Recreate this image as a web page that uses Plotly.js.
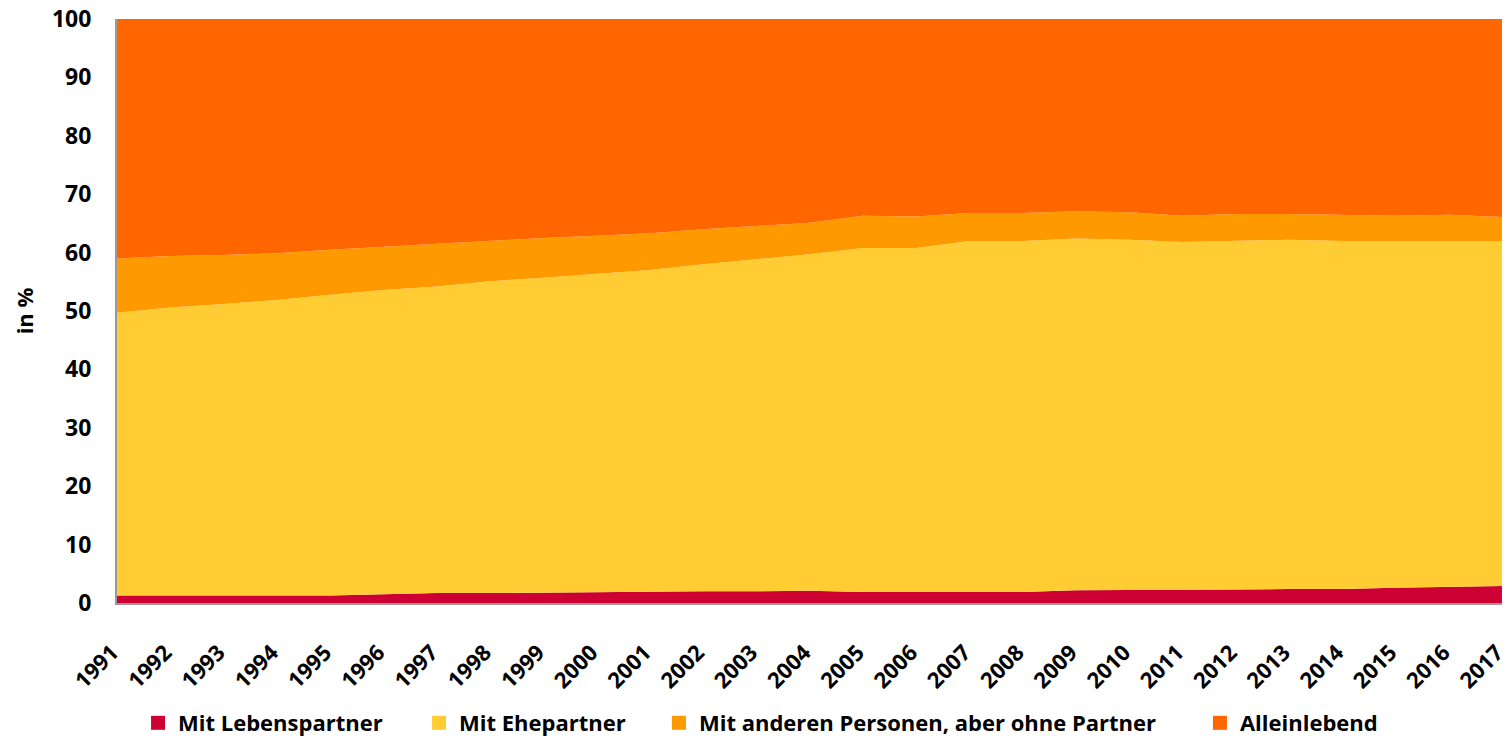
<!DOCTYPE html>
<html>
<head>
<meta charset="utf-8">
<script src="https://cdn.plot.ly/plotly-3.0.1.min.js"></script>
<style>
html,body{margin:0;padding:0;background:#fff;}
#chart{width:1508px;height:738px;}
</style>
</head>
<body>
<div id="chart"></div>
<script>
const years = [1991,1992,1993,1994,1995,1996,1997,1998,1999,2000,2001,2002,2003,2004,2005,2006,2007,2008,2009,2010,2011,2012,2013,2014,2015,2016,2017];
const seriesNames = ["Mit Lebenspartner","Mit Ehepartner","Mit anderen Personen, aber ohne Partner","Alleinlebend"];
const lebenspartner = [1.3,1.3,1.3,1.3,1.3,1.5,1.7,1.7,1.8,1.9,2.0,2.0,2.0,2.1,1.9,1.9,1.9,1.9,2.2,2.2,2.3,2.3,2.4,2.4,2.6,2.7,2.9];
const ehepartner = [48.4,49.3,49.9,50.6,51.5,52.1,52.5,53.4,53.9,54.4,55.0,56.0,56.9,57.6,58.9,58.9,60.1,60.1,60.2,60.0,59.5,59.7,59.8,59.6,59.4,59.3,59.1];
const anderePersonen = [9.3,8.8,8.4,8.0,7.7,7.4,7.4,7.0,6.8,6.6,6.3,6.0,5.7,5.4,5.5,5.4,4.8,4.8,4.7,4.7,4.5,4.6,4.4,4.4,4.3,4.5,4.1];
const alleinlebend = [41.0,40.6,40.4,40.1,39.5,39.0,38.4,37.9,37.5,37.1,36.7,36.0,35.4,34.9,33.7,33.8,33.2,33.2,32.9,33.1,33.7,33.4,33.4,33.6,33.7,33.5,33.9];
const yTicks = [0,10,20,30,40,50,60,70,80,90,100];

const colors = ["#CC0033","#FFCC33","#FF9900","#FF6600"];
const values = [lebenspartner, ehepartner, anderePersonen, alleinlebend];
const legendIds = ['legend','legend2','legend3','legend4'];
const legendX = [0.0152, 0.2181, 0.3913, 0.7819];

const traces = [];
values.forEach((v,i)=>{
  traces.push({
    x: years, y: v, type:'scatter', mode:'lines', stackgroup:'one',
    name: seriesNames[i], fillcolor: colors[i],
    line:{width:0, color: colors[i]}, showlegend:false
  });
});
values.forEach((v,i)=>{
  traces.push({
    x:[null], y:[null], type:'scatter', mode:'markers', name: seriesNames[i],
    marker:{symbol:'square', size:14, color: colors[i]}, showlegend:true, legend: legendIds[i]
  });
});

const layout = {
  width:1508, height:738,
  margin:{l:117, r:6, t:19, b:135, autoexpand:false},
  paper_bgcolor:'#fff', plot_bgcolor:'#fff',
  font:{family:'"Open Sans", "DejaVu Sans", sans-serif', color:'#000'},
  showlegend:true,
  xaxis:{
    range:[1990.999,2017.001], tickmode:'array', tickvals:years, ticktext:years.map(String),
    tickangle:-45, showgrid:false, zeroline:false, showline:true, linecolor:'#999', linewidth:2,
    ticks:'outside', ticklen:20, tickcolor:'rgba(0,0,0,0)', tickfont:{size:22, weight:'bold'},
    ticklabelstandoff:6, ticklabelshift:-5,
    ticklabeloverflow:'allow', automargin:false
  },
  yaxis:{
    range:[0,100], tickmode:'array', tickvals:yTicks, ticktext:yTicks.map(String),
    showgrid:false, zeroline:false, showline:true, linecolor:'#999', linewidth:2,
    ticks:'outside', ticklen:19, tickcolor:'rgba(0,0,0,0)', tickfont:{size:23, weight:'bold'},
    title:{text:'in %', font:{size:22, weight:'bold'}, standoff:12}, automargin:false
  }
};
legendIds.forEach((id,i)=>{
  layout[id] = {orientation:'h', x:legendX[i], xanchor:'left', yref:'container', y:0.0203, yanchor:'middle',
    font:{size:22, family:'"Open Sans", sans-serif', weight:'bold'}, bgcolor:'rgba(0,0,0,0)', itemwidth:30};
});
Plotly.newPlot('chart', traces, layout, {displayModeBar:false, staticPlot:true});
</script>
</body>
</html>
